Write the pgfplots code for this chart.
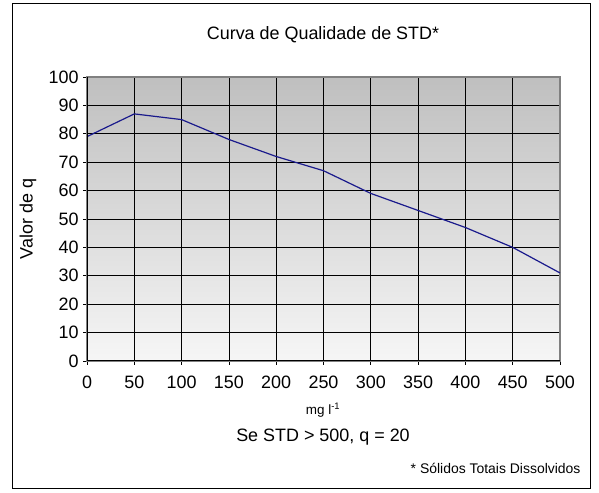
\documentclass[border=0pt]{standalone}
\usepackage{fontspec}
\setmainfont{Liberation Sans}
\usepackage{pgfplots}
\pgfplotsset{compat=1.18}
\definecolor{linenavy}{HTML}{1A1A8C}
\definecolor{bgtop}{HTML}{BFBFBF}
\definecolor{bgbot}{HTML}{F6F6F6}
\begin{document}
\begin{tikzpicture}[x=1bp,y=1bp]
\path (0,0) rectangle (599,493);
\draw[black, line width=1bp] (12,4) rectangle (590,489);
\begin{axis}[
    at={(87bp,132bp)}, anchor=south west,
    scale only axis,
    width=473bp, height=284bp,
    xmin=0, xmax=500, ymin=0, ymax=100,
    xtick={0,50,...,500}, ytick={0,10,...,100},
    grid=major,
    major grid style={black, line width=0.7bp},
    axis line style={draw=gray, line width=1.2bp},
    tick align=outside,
    xtick pos=bottom, ytick pos=left,
    major tick length=4bp,
    tick style={black, line width=0.7bp},
    ticklabel style={font=\fontsize{18}{20}\selectfont},
    xticklabel style={yshift=-7bp},
    yticklabel style={xshift=-1bp},
    /pgf/number format/assume math mode=true,
    axis background/.style={top color=bgtop, bottom color=bgbot},
]
\addplot[linenavy, line width=1.2bp, mark=none] coordinates {
    (0,79) (50,87) (100,85) (150,78) (200,72) (250,67)
    (300,59) (350,53) (400,47) (450,40) (500,31)
};
\draw[black, line width=1bp] (rel axis cs:0,1) -- (rel axis cs:0,0) -- (rel axis cs:1,0);
\end{axis}
\node[font=\fontsize{18}{20}\selectfont] at (323,458) {Curva de Qualidade de STD*};
\node[font=\fontsize{18}{20}\selectfont, rotate=90] at (28,274) {Valor de q};
\node[font=\fontsize{13.5}{15}\selectfont] at (323,83) {mg l\textsuperscript{-1}};
\node[font=\fontsize{18}{20}\selectfont] at (323,56) {Se STD > 500, q = 20};
\node[font=\fontsize{14}{16}\selectfont, anchor=east] at (584,25) {* Sólidos Totais Dissolvidos};
\end{tikzpicture}
\end{document}
